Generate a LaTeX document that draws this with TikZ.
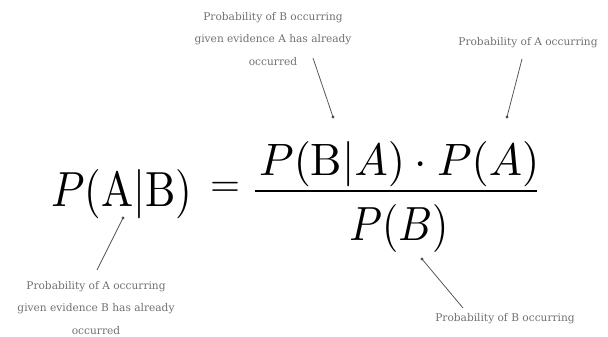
\documentclass[tikz,border=0pt]{standalone}
\usepackage{fontspec}
\usepackage{graphicx}
\newfontfamily\labelfont{DejaVu Serif}
\definecolor{labelgray}{HTML}{707070}
\definecolor{linegray}{HTML}{505050}
\tikzset{
  lbl/.style={font=\labelfont\fontsize{10.6}{22.5}\selectfont, text=labelgray, align=center, inner sep=0pt},
  mathtxt/.style={inner sep=0pt, anchor=base west},
  dotmark/.style={circle, fill=linegray, inner sep=0pt, minimum size=3.4pt},
  conn/.style={draw=linegray, line width=0.75pt},
}
\begin{document}
\begin{tikzpicture}[x=1pt, y=-1pt]
\useasboundingbox (0,0) rectangle (608,337);
% formula
\node[mathtxt] (lhs) at (51,206) {\resizebox{141pt}{37pt}{$P(\mathrm{A}|\mathrm{B})$}};
\node[inner sep=0pt] (eq) at (225,189) {\resizebox{30pt}{!}{$=$}};
\node[mathtxt] (num) at (259,175) {\resizebox{280pt}{34pt}{$P(\mathrm{B}|A)\cdot P(A)$}};
\coordinate (barL) at (255,191);
\coordinate (barR) at (537,191);
\draw[line width=2.8pt] (barL) -- (barR);
\node[inner sep=0pt, anchor=base] (den) at (399,240) {\resizebox{99pt}{36pt}{$P(B)$}};
% dots
\node[dotmark] (d1) at (333,117) {};
\node[dotmark] (d2) at (507,117) {};
\node[dotmark] (d3) at (123,218) {};
\node[dotmark] (d4) at (422,259) {};
% labels
\node[lbl] (t1) at (273,39) {Probability of B occurring\\given evidence A has already\\occurred};
\node[lbl] (t2) at (528,43) {Probability of A occurring};
\node[lbl] (t3) at (96,308) {Probability of A occurring\\given evidence B has already\\occurred};
\node[lbl] (t4) at (505,319) {Probability of B occurring};
% connector ends
\coordinate (c1) at (313,58);
\coordinate (c2) at (522,59);
\coordinate (c3) at (97,270);
\coordinate (c4) at (463,308);
\draw[conn] (c1) -- (d1.center);
\draw[conn] (c2) -- (d2.center);
\draw[conn] (c3) -- (d3.center);
\draw[conn] (c4) -- (d4.center);
\end{tikzpicture}
\end{document}
